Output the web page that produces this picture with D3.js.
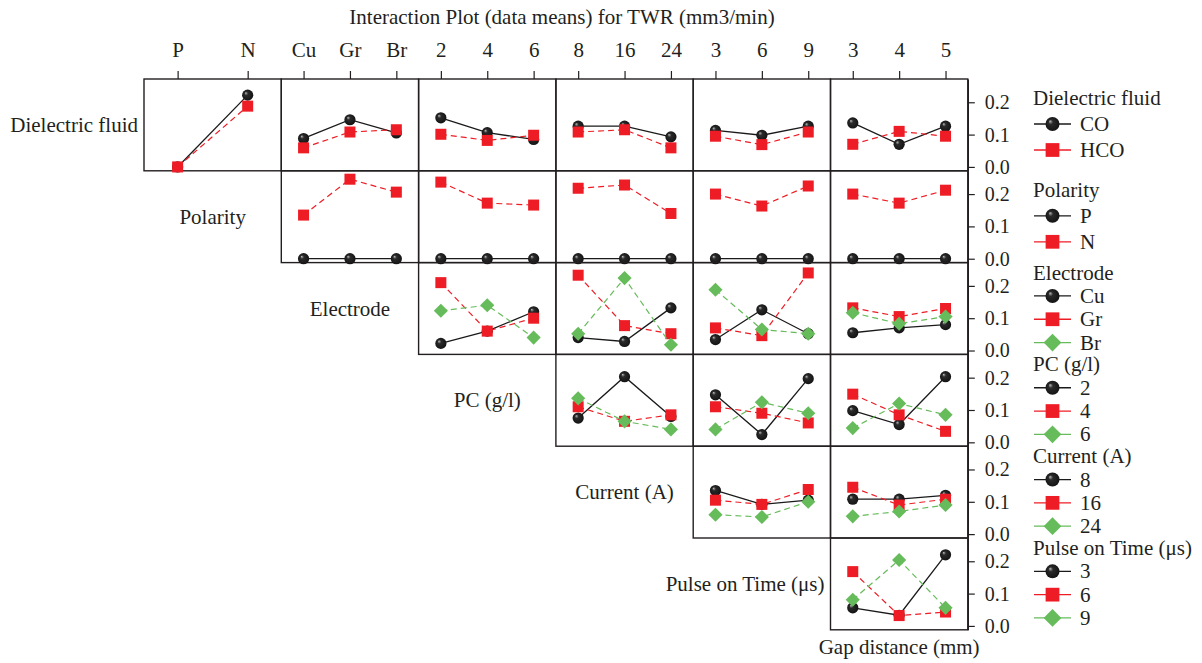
<!DOCTYPE html>
<html>
<head>
<meta charset="utf-8">
<script src="https://cdn.jsdelivr.net/npm/d3@7"></script>
<style>
body { margin: 0; background: #fff; }
svg { display: block; font-family: "Liberation Serif", "DejaVu Serif", serif; }
</style>
</head>
<body>
<div id="chart"></div>
<script>
var factorNames = ["Dielectric fluid", "Polarity", "Electrode", "PC (g/l)", "Current (A)", "Pulse on Time (\u03bcs)", "Gap distance (mm)"];
var factorLevels = [["CO", "HCO"], ["P", "N"], ["Cu", "Gr", "Br"], ["2", "4", "6"], ["8", "16", "24"], ["3", "6", "9"], ["3", "4", "5"]];
var yTicks = [0.0, 0.1, 0.2];

// one entry per column panel (column factor = row factor + 1 ... Gap distance),
// each entry holds one series per level of the row factor
var meansDielectric = [
    [[0.000, 0.222], [0.000, 0.188]],
    [[0.088, 0.146, 0.105], [0.059, 0.108, 0.115]],
    [[0.152, 0.106, 0.085], [0.101, 0.082, 0.098]],
    [[0.126, 0.126, 0.093], [0.108, 0.115, 0.059]],
    [[0.113, 0.098, 0.126], [0.095, 0.069, 0.108]],
    [[0.136, 0.070, 0.126], [0.070, 0.110, 0.095]]
];
var meansPolarity = [
    [[0, 0, 0], [0.135, 0.246, 0.206]],
    [[0, 0, 0], [0.237, 0.172, 0.166]],
    [[0, 0, 0], [0.218, 0.228, 0.140]],
    [[0, 0, 0], [0.200, 0.163, 0.225]],
    [[0, 0, 0], [0.200, 0.172, 0.212]]
];
var meansElectrode = [
    [[0.022, 0.060, 0.120], [0.210, 0.060, 0.100], [0.123, 0.140, 0.040]],
    [[0.040, 0.028, 0.132], [0.233, 0.077, 0.052], [0.052, 0.224, 0.018]],
    [[0.034, 0.126, 0.052], [0.070, 0.046, 0.240], [0.188, 0.065, 0.052]],
    [[0.055, 0.070, 0.080], [0.132, 0.105, 0.130], [0.117, 0.083, 0.105]]
];
var meansPC = [
    [[0.075, 0.203, 0.080], [0.110, 0.065, 0.085], [0.136, 0.065, 0.040]],
    [[0.147, 0.024, 0.197], [0.110, 0.090, 0.060], [0.040, 0.124, 0.090]],
    [[0.098, 0.055, 0.203], [0.149, 0.085, 0.034], [0.044, 0.120, 0.085]]
];
var meansCurrent = [
    [[0.135, 0.092, 0.105], [0.105, 0.092, 0.138], [0.060, 0.053, 0.100]],
    [[0.108, 0.108, 0.120], [0.145, 0.090, 0.108], [0.055, 0.070, 0.090]]
];
var meansPulse = [
    [[0.056, 0.033, 0.220], [0.168, 0.032, 0.043], [0.081, 0.204, 0.056]]
];
var rowMeans = [meansDielectric, meansPolarity, meansElectrode, meansPC, meansCurrent, meansPulse];

var seriesColours = ["#1a1a1a", "#ee1c25", "#66bb5a"];
var seriesDash = [null, "6,4", "6,4"];

var x0 = 144, colW = 137.3, y0 = 79, rowH = 91.8;
var nCols = 6, nRows = 6;
var fontSize = "21px";

var svg = d3.select("#chart")
    .append("svg")
    .attr("width", 1202)
    .attr("height", 663);

var defs = svg.append("defs");
var grad = defs.append("radialGradient").attr("id", "ball")
    .attr("cx", "50%").attr("cy", "50%").attr("r", "55%")
    .attr("fx", "32%").attr("fy", "30%");
grad.append("stop").attr("offset", "0%").attr("stop-color", "#bbbbbb");
grad.append("stop").attr("offset", "30%").attr("stop-color", "#2a2a2a");
grad.append("stop").attr("offset", "100%").attr("stop-color", "#111111");

var yScale = d3.scaleLinear().domain([-0.012, 0.272]).range([rowH, 0]);

var xScales = d3.range(nCols).map(function(c) {
    return d3.scalePoint()
        .domain(factorLevels[c + 1])
        .range([x0 + c * colW, x0 + (c + 1) * colW])
        .padding(0.48);
});

function drawMarker(sel, k, big) {
    var s = big ? 1.25 : 1;
    if (k == 0) {
        sel.append("circle").attr("r", 5.6 * s).attr("fill", "url(#ball)");
    } else if (k == 1) {
        sel.append("rect").attr("x", -5.5 * s).attr("y", -5.5 * s)
            .attr("width", 11 * s).attr("height", 11 * s).attr("fill", seriesColours[1]);
    } else {
        sel.append("rect").attr("x", -5 * s).attr("y", -5 * s)
            .attr("width", 10 * s).attr("height", 10 * s)
            .attr("transform", "rotate(45)").attr("fill", seriesColours[2]);
    }
}

// title
svg.append("text")
    .attr("x", 562).attr("y", 24)
    .attr("text-anchor", "middle")
    .style("font-size", fontSize).style("fill", "#231f20")
    .text("Interaction Plot (data means) for TWR (mm3/min)");

// top axes
xScales.forEach(function(xs) {
    var ax = svg.append("g")
        .attr("transform", "translate(0," + y0 + ")")
        .call(d3.axisTop(xs).tickSize(8).tickPadding(14));
    ax.select(".domain").remove();
    ax.selectAll(".tick line").attr("stroke", "#231f20").attr("stroke-width", 1.2);
    ax.selectAll(".tick text").style("font-family", "Liberation Serif").style("font-size", fontSize).attr("fill", "#231f20");
});

var line = d3.line();

d3.range(nRows).forEach(function(r) {
    var top = y0 + r * rowH;
    var g = svg.append("g").attr("transform", "translate(0," + top + ")");
    var means = rowMeans[r];

    means.forEach(function(panel, j) {
        var c = r + j;
        var xs = xScales[c];
        var lv = factorLevels[c + 1];
        g.append("rect")
            .attr("x", x0 + c * colW).attr("y", 0)
            .attr("width", colW).attr("height", rowH)
            .attr("fill", "none").attr("stroke", "#231f20").attr("stroke-width", 1.4);

        panel.forEach(function(series, k) {
            var pts = series.map(function(v, i) { return [xs(lv[i]), yScale(v)]; });
            g.append("path")
                .attr("d", line(pts))
                .attr("fill", "none")
                .attr("stroke", seriesColours[k])
                .attr("stroke-width", k == 0 ? 1.3 : 1.2)
                .attr("stroke-dasharray", seriesDash[k]);
            pts.forEach(function(p) {
                var m = g.append("g").attr("transform", "translate(" + p[0] + "," + p[1] + ")");
                drawMarker(m, k, false);
            });
        });
    });

    // right axis
    var ay = svg.append("g")
        .attr("transform", "translate(" + (x0 + nCols * colW) + "," + top + ")")
        .call(d3.axisRight(yScale).tickValues(yTicks).tickFormat(d3.format(".1f")).tickSize(7).tickSizeOuter(0).tickPadding(10));
    ay.select(".domain").attr("stroke", "#231f20").attr("stroke-width", 1.4);
    ay.selectAll(".tick line").attr("stroke", "#231f20").attr("stroke-width", 1.2);
    ay.selectAll(".tick text").style("font-family", "Liberation Serif").style("font-size", "20px").attr("fill", "#231f20");

    // diagonal label, kept clear of the panel to its right
    var lx = x0 + (r - 0.5) * colW;
    var lab = svg.append("text")
        .attr("x", lx).attr("y", top + rowH / 2 + 7)
        .attr("text-anchor", "middle")
        .style("font-size", fontSize).style("fill", "#231f20")
        .text(factorNames[r]);
    var w = lab.node().getComputedTextLength();
    var maxRight = x0 + r * colW - 6;
    if (lx + w / 2 > maxRight) {
        lab.attr("text-anchor", "end").attr("x", maxRight);
    }

    // legend
    var labels = factorLevels[r];
    var nLines = labels.length + 1;
    var step = nLines == 3 ? 26 : 23.3;
    var firstY = top + 45 - step * (nLines - 1) / 2;
    var lg = svg.append("g");
    lg.append("text")
        .attr("x", 1033).attr("y", firstY + 7)
        .style("font-size", fontSize).style("fill", "#231f20")
        .text(factorNames[r]);
    labels.forEach(function(t, k) {
        var yy = firstY + step * (k + 1);
        lg.append("line")
            .attr("x1", 1034).attr("x2", 1071).attr("y1", yy).attr("y2", yy)
            .attr("stroke", seriesColours[k]).attr("stroke-width", 1.3);
        var m = lg.append("g").attr("transform", "translate(1052.5," + yy + ")");
        drawMarker(m, k, true);
        lg.append("text")
            .attr("x", 1080).attr("y", yy + 7)
            .style("font-size", fontSize).style("fill", "#231f20")
            .text(t);
    });
});

// bottom label for the last column
svg.append("text")
    .attr("x", x0 + 5.5 * colW).attr("y", y0 + nRows * rowH + 24)
    .attr("text-anchor", "middle")
    .style("font-size", fontSize).style("fill", "#231f20")
    .text(factorNames[6]);
</script>
</body>
</html>
